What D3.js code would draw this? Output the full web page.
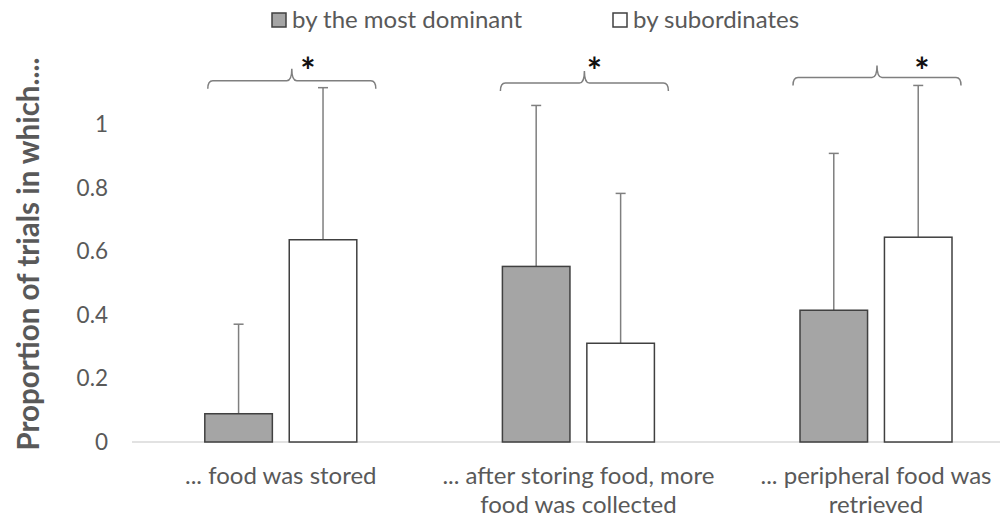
<!DOCTYPE html>
<html>
<head>
<meta charset="utf-8">
<script src="https://cdn.jsdelivr.net/npm/d3@7"></script>
<style>
  body { margin: 0; background: #fff; }
  text { font-family: Lato, "Open Sans", sans-serif; }
</style>
</head>
<body>
<div id="my_chart"></div>
<script>
// data
const categories = ["food_stored", "more_collected", "peripheral_retrieved"];
const categoryLines = [
  ["... food was stored"],
  ["... after storing food, more", "food was collected"],
  ["... peripheral food was", "retrieved"]
];
const seriesNames = ["by the most dominant", "by subordinates"];
const dominantValues = [0.089, 0.553, 0.415];
const dominantErr = [0.282, 0.507, 0.494];
const subordinateValues = [0.637, 0.311, 0.645];
const subordinateErr = [0.479, 0.472, 0.478];
const yTicks = [0, 0.2, 0.4, 0.6, 0.8, 1];
const bracketLevels = [1.138, 1.131, 1.148];
const significance = ["*", "*", "*"];

const width = 1000, height = 518;
const margin = {top: 0, left: 132};

const svg = d3.select("#my_chart")
  .append("svg")
    .attr("width", width)
    .attr("height", height);

const x0 = d3.scaleBand()
  .domain(categories)
  .range([margin.left, margin.left + 3 * 297.6]);

const groupW = 152;
const x1 = d3.scaleBand()
  .domain(seriesNames)
  .range([0, groupW])
  .paddingInner(0.2);

const groupStart = c => x0(c) + (x0.bandwidth() - groupW) / 2;

const y = d3.scaleLinear()
  .domain([0, 1])
  .range([442, 124.5]);

// y tick labels (no axis line in the original)
svg.append("g")
  .selectAll("text")
  .data(yTicks)
  .join("text")
    .attr("x", 108)
    .attr("y", d => y(d))
    .attr("dy", "0.35em")
    .attr("text-anchor", "end")
    .style("font-size", "22.5px")
    .style("fill", "#595959")
    .text(d => d3.format("")(d));

// baseline
svg.append("line")
  .attr("x1", margin.left)
  .attr("x2", width)
  .attr("y1", y(0))
  .attr("y2", y(0))
  .style("stroke", "#d9d9d9")
  .style("stroke-width", 1.5);

const rows = categories.map((c, i) => [
  {cat: c, s: seriesNames[0], v: dominantValues[i], e: dominantErr[i], fill: "#a5a5a5"},
  {cat: c, s: seriesNames[1], v: subordinateValues[i], e: subordinateErr[i], fill: "#ffffff"}
]).flat();

// error bars (upper only)
const err = svg.append("g");
err.selectAll("line.stem")
  .data(rows)
  .join("line")
    .attr("class", "stem")
    .attr("x1", d => groupStart(d.cat) + x1(d.s) + x1.bandwidth() / 2)
    .attr("x2", d => groupStart(d.cat) + x1(d.s) + x1.bandwidth() / 2)
    .attr("y1", d => y(d.v))
    .attr("y2", d => y(d.v + d.e))
    .style("stroke", "#7f7f7f")
    .style("stroke-width", 1.5);
err.selectAll("line.cap")
  .data(rows)
  .join("line")
    .attr("class", "cap")
    .attr("x1", d => groupStart(d.cat) + x1(d.s) + x1.bandwidth() / 2 - 5)
    .attr("x2", d => groupStart(d.cat) + x1(d.s) + x1.bandwidth() / 2 + 5)
    .attr("y1", d => y(d.v + d.e))
    .attr("y2", d => y(d.v + d.e))
    .style("stroke", "#7f7f7f")
    .style("stroke-width", 1.5);

// bars
svg.append("g")
  .selectAll("rect")
  .data(rows)
  .join("rect")
    .attr("x", d => groupStart(d.cat) + x1(d.s))
    .attr("y", d => y(d.v))
    .attr("width", x1.bandwidth())
    .attr("height", d => y(0) - y(d.v))
    .style("fill", d => d.fill)
    .style("stroke", "#404040")
    .style("stroke-width", 1.5);

// category labels
svg.append("g")
  .selectAll("text")
  .data(categories)
  .join("text")
    .attr("x", d => x0(d) + x0.bandwidth() / 2)
    .attr("y", 484)
    .attr("text-anchor", "middle")
    .style("font-size", "24px")
    .style("fill", "#595959")
    .each(function(d, i) {
      d3.select(this).selectAll("tspan")
        .data(categoryLines[i])
        .join("tspan")
          .attr("x", x0(d) + x0.bandwidth() / 2)
          .attr("dy", (t, j) => j === 0 ? 0 : 29)
          .text(t => t);
    });

// significance brackets
const bracket = function(l, r, yb) {
  const c = (l + r) / 2, h = 8, t = 12, q = 5;
  return `M${l},${yb + h} Q${l},${yb} ${l + q},${yb} L${c - q},${yb} Q${c},${yb} ${c},${yb - t}` +
         ` Q${c},${yb} ${c + q},${yb} L${r - q},${yb} Q${r},${yb} ${r},${yb + h}`;
};
svg.append("g")
  .selectAll("path")
  .data(categories)
  .join("path")
    .attr("d", (d, i) => {
      const l = groupStart(d) + 3 - i * 5;
      return bracket(l, l + groupW + 16, y(bracketLevels[i]));
    })
    .style("fill", "none")
    .style("stroke", "#7f7f7f")
    .style("stroke-width", 1.5);

svg.append("g")
  .selectAll("text")
  .data(categories)
  .join("text")
    .attr("x", (d, i) => groupStart(d) + (groupW + 16) / 2 + [19, 8, 38][i])
    .attr("y", 84)
    .attr("text-anchor", "middle")
    .style("font-size", "36px")
    .style("font-weight", "bold")
    .style("fill", "#111")
    .text((d, i) => significance[i]);

// y axis title
svg.append("text")
  .attr("transform", "translate(39, 254) rotate(-90)")
  .attr("text-anchor", "middle")
  .style("font-size", "29.5px")
  .style("font-weight", "bold")
  .style("fill", "#595959")
  .text("Proportion of trials in which....");

// legend
const legendX = [272, 613];
const legend = svg.append("g")
  .selectAll("g")
  .data(seriesNames)
  .join("g")
    .attr("transform", (d, i) => `translate(${legendX[i]}, 13)`);
legend.append("rect")
  .attr("width", 14)
  .attr("height", 14)
  .style("fill", (d, i) => i === 0 ? "#a5a5a5" : "#fff")
  .style("stroke", "#404040")
  .style("stroke-width", 1.5);
legend.append("text")
  .attr("x", 20)
  .attr("y", 7)
  .attr("dy", "0.35em")
  .style("font-size", "24px")
  .style("fill", "#595959")
  .text(d => d);
</script>
</body>
</html>
